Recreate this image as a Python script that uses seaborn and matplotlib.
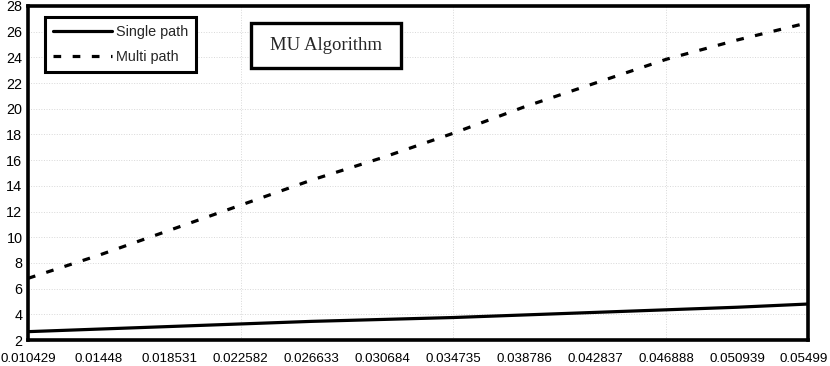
import numpy as np
import pandas as pd
import seaborn as sns
import matplotlib.pyplot as plt
import matplotlib.transforms as mtransforms
from matplotlib.lines import Line2D
from matplotlib.patches import Rectangle

# x positions (tick values)
x_vals = [0.010429, 0.01448, 0.018531, 0.022582, 0.026633, 0.030684,
          0.034735, 0.038786, 0.042837, 0.046888, 0.050939, 0.05499]
x_labels = ["0.010429", "0.01448", "0.018531", "0.022582", "0.026633", "0.030684",
            "0.034735", "0.038786", "0.042837", "0.046888", "0.050939", "0.05499"]

single_path = [2.65, 2.85, 3.05, 3.25, 3.45, 3.6, 3.75, 3.95, 4.15, 4.35, 4.55, 4.8]
multi_path = [6.8, 8.6, 10.55, 12.5, 14.45, 16.2, 18.1, 20.15, 22.0, 23.85, 25.35, 26.7]

df = pd.DataFrame({
    "x": x_vals * 2,
    "y": single_path + multi_path,
    "series": ["Single path"] * len(x_vals) + ["Multi path"] * len(x_vals),
})

sns.set_style("white")
plt.rcParams["font.family"] = ["Liberation Sans", "DejaVu Sans"]

W, H = 830, 366
fig = plt.figure(figsize=(W / 100, H / 100), dpi=100)
ax = fig.add_axes([28 / W, 26 / H, 780 / W, 334 / H])

sns.lineplot(data=df, x="x", y="y", hue="series", style="series",
             palette=["black", "black"], linewidth=2.3, ax=ax, legend=False)

dash = (0, (2.4, 3.6))
ax.lines[0].set_linestyle("-")
ax.lines[1].set_linestyle(dash)

ax.set_xlim(0.010429, 0.05499)
ax.set_ylim(2, 28)
ax.set_xticks(x_vals)
ax.set_xticklabels(x_labels)
ax.set_yticks(np.arange(2, 29, 2))
ax.set_xlabel("")
ax.set_ylabel("")
ax.tick_params(axis="both", direction="in", length=3, width=1, colors="black")
ax.tick_params(axis="x", labelsize=9.6, pad=9)
ax.tick_params(axis="y", labelsize=10.4, pad=4)

# keep the last x label inside the figure
last = ax.get_xticklabels()[-1]
last.set_transform(last.get_transform() +
                   mtransforms.ScaledTranslation(-4 / 100, 0, fig.dpi_scale_trans))

# light grid: horizontal at every tick, vertical every third tick
for yv in np.arange(4, 28, 2):
    ax.axhline(yv, color="#d8d8d8", lw=0.7, ls=":", zorder=0)
for xv in x_vals[3:10:3]:
    ax.axvline(xv, color="#d8d8d8", lw=0.7, ls=":", zorder=0)

for sp in ax.spines.values():
    sp.set_visible(True)
    sp.set_color("black")
    sp.set_linewidth(2.6)


def px(x, y):
    # figure pixel (from top-left) -> axes fraction
    return (x - 28) / 780, 1 - (y - 6) / 334


# legend
handles = [Line2D([], [], color="black", lw=2.3, ls="-"),
           Line2D([], [], color="black", lw=2.3, ls=dash)]
leg = ax.legend(handles, ["Single path", "Multi path"], loc="upper left",
                bbox_to_anchor=px(45, 17), fontsize=10.4,
                frameon=True, fancybox=False, framealpha=1, handlelength=4.1,
                handletextpad=0.25, borderpad=0.55, labelspacing=0.75,
                borderaxespad=0)
leg.get_frame().set_edgecolor("black")
leg.get_frame().set_linewidth(2.2)

# title box
x0, y0 = px(251, 68)
x1, y1 = px(401, 23)
ax.add_patch(Rectangle((x0, y0), x1 - x0, y1 - y0, transform=ax.transAxes,
                       fc="white", ec="black", lw=2.4, zorder=5))
ax.text(*px(326, 46), "MU Algorithm", transform=ax.transAxes,
        ha="center", va="center", fontsize=13.5, family="Liberation Serif",
        zorder=6)

fig.savefig("out.png", dpi=100)
